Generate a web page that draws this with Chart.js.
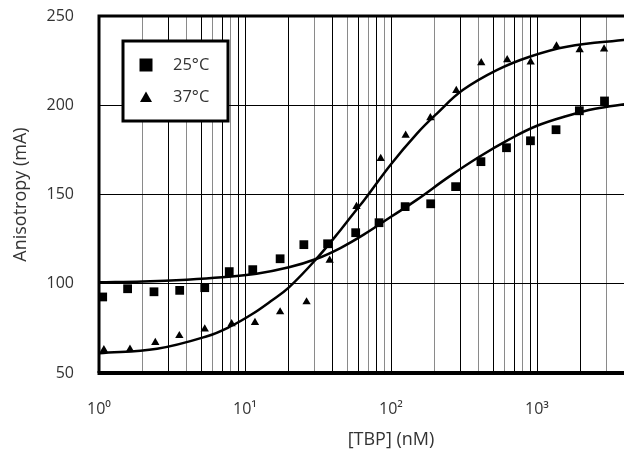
<!DOCTYPE html>
<html>
<head>
<meta charset="utf-8">
<script src="https://cdn.jsdelivr.net/npm/chart.js@4.4.1/dist/chart.umd.min.js"></script>
<style>
  html, body { margin: 0; padding: 0; background: #fff; overflow: hidden; }
  #wrap { width: 700px; height: 452px; }
</style>
</head>
<body>
<div id="wrap"><canvas id="chart" width="700" height="452"></canvas></div>
<script>
// measured points, 25 C (squares)
var conc25 = [1.06, 1.57, 2.38, 3.57, 5.3, 7.8, 11.3, 17.4, 25.3, 36.8, 57.3, 82.8, 125, 187, 277, 413, 618, 902, 1350, 1950, 2900];
var aniso25 = [92.6, 97.2, 95.5, 96.3, 97.8, 106.8, 107.9, 114.0, 121.9, 122.4, 128.6, 134.2, 143.2, 144.8, 154.4, 168.4, 176.2, 180.1, 186.3, 196.9, 202.4];

// measured points, 37 C (triangles)
var conc37 = [1.08, 1.63, 2.43, 3.55, 5.3, 8.1, 11.7, 17.4, 26.4, 38, 58, 85, 126, 186, 280, 415, 625, 905, 1360, 1960, 2880];
var aniso37 = [63.0, 63.3, 67.0, 70.9, 74.6, 77.5, 78.2, 84.2, 89.8, 113.1, 143.2, 170.1, 183.2, 192.9, 208.2, 223.8, 225.4, 224.2, 233.2, 231.0, 231.5];

// fitted curves
var fitConc25 = [1, 2, 4, 7, 12, 20, 31, 45, 65, 100, 150, 250, 400, 650, 1000, 1600, 2500, 4200];
var fitVal25 = [100.8, 101.3, 102.3, 103.6, 105.6, 109.2, 114, 120, 127.5, 137.5, 147, 160, 171, 181, 188.5, 194, 198, 200.8];

var fitConc37 = [1, 2.5, 5.5, 8, 11, 15, 20, 31, 45, 58, 65, 100, 150, 207, 310, 530, 890, 1600, 4200];
var fitVal37 = [61, 63.6, 70.6, 76.2, 82.6, 90.2, 98.0, 114.2, 130, 141.5, 146.5, 167, 184, 195.5, 208.5, 219.7, 227.2, 232.8, 236.8];

var xTicks = [];
[1, 10, 100, 1000].forEach(function(d) {
  for (var i = 1; i < 10; i++) xTicks.push(d * i);
});
xTicks.push(10000);
var decadeLabels = { 1: '10\u2070', 10: '10\u00b9', 100: '10\u00b2', 1000: '10\u00b3', 10000: '10\u2074' };
var yTicks = [50, 100, 150, 200, 250];

var legendItems = [
  { label: '25\u00b0C', style: 'rect' },
  { label: '37\u00b0C', style: 'triangle' }
];

function pts(xs, ys) {
  return xs.map(function(x, i) { return { x: x, y: ys[i] }; });
}

Chart.defaults.font.family = "'Open Sans', 'DejaVu Sans', sans-serif";
Chart.defaults.font.size = 16;
Chart.defaults.color = '#333';

var framePlugin = {
  id: 'frame',
  afterDatasetsDraw: function(chart) {
    var ctx = chart.ctx, a = chart.chartArea;
    ctx.save();
    ctx.strokeStyle = '#000';
    ctx.lineWidth = 3;
    ctx.beginPath();
    ctx.moveTo(a.left, a.top);
    ctx.lineTo(a.right + 2, a.top);
    ctx.moveTo(a.left, a.top - 1.5);
    ctx.lineTo(a.left, a.bottom);
    ctx.stroke();
    ctx.lineWidth = 4;
    ctx.beginPath();
    ctx.moveTo(a.left - 1.5, a.bottom);
    ctx.lineTo(a.right + 2, a.bottom);
    ctx.stroke();

    // legend box
    var bx = a.left + 24, by = a.top + 25, bw = 105, bh = 80;
    ctx.fillStyle = '#fff';
    ctx.fillRect(bx, by, bw, bh);
    ctx.lineWidth = 3;
    ctx.strokeRect(bx, by, bw, bh);
    ctx.font = "16.5px 'Open Sans', 'DejaVu Sans', sans-serif";
    ctx.textBaseline = 'middle';
    legendItems.forEach(function(it, i) {
      var cy = by + 24 + i * 32, cx = bx + 23;
      ctx.fillStyle = '#000';
      if (it.style === 'rect') {
        ctx.fillRect(cx - 6.5, cy - 6.5, 13, 13);
      } else {
        ctx.beginPath();
        ctx.moveTo(cx, cy - 5.5);
        ctx.lineTo(cx + 6, cy + 5);
        ctx.lineTo(cx - 6, cy + 5);
        ctx.closePath();
        ctx.fill();
      }
      ctx.fillStyle = '#333';
      ctx.fillText(it.label, bx + 50, cy);
    });
    ctx.restore();
  }
};

var ctx = document.getElementById('chart').getContext('2d');
var chart = new Chart(ctx, {
  type: 'scatter',
  data: {
    datasets: [
      {
        label: '25 fit',
        data: pts(fitConc25, fitVal25),
        showLine: true,
        borderColor: '#000',
        borderWidth: 2.5,
        pointRadius: 0,
        tension: 0.4
      },
      {
        label: '37 fit',
        data: pts(fitConc37, fitVal37),
        showLine: true,
        borderColor: '#000',
        borderWidth: 2.5,
        pointRadius: 0,
        tension: 0.4
      },
      {
        label: '25\u00b0C',
        data: pts(conc25, aniso25),
        pointStyle: 'rect',
        pointRadius: 6.2,
        backgroundColor: '#000',
        borderWidth: 0
      },
      {
        label: '37\u00b0C',
        data: pts(conc37, aniso37),
        pointStyle: 'triangle',
        pointRadius: 4.8,
        backgroundColor: '#000',
        borderWidth: 0
      }
    ]
  },
  options: {
    responsive: false,
    animation: false,
    layout: { padding: { top: 16, right: 17, left: 0, bottom: 0 } },
    plugins: { legend: { display: false }, tooltip: { enabled: false } },
    scales: {
      x: {
        type: 'logarithmic',
        min: 1,
        max: 10000,
        afterBuildTicks: function(scale) {
          scale.ticks = xTicks.map(function(v) { return { value: v }; });
        },
        afterFit: function(scale) {
          scale.height = 79;
          scale.paddingLeft = 0;
          scale.paddingRight = 0;
        },
        ticks: {
          autoSkip: false,
          maxRotation: 0,
          padding: 27,
          callback: function(v) { return decadeLabels[v] || ''; }
        },
        grid: {
          drawTicks: false,
          lineWidth: 1,
          color: function(c) {
            var v = c.tick && c.tick.value;
            if (decadeLabels[v]) return '#000';
            return c.index % 2 ? '#8a8a8a' : '#000';
          }
        },
        border: { display: false },
        title: { display: true, text: '[TBP] (nM)', font: { size: 18 }, padding: { top: 8, bottom: 1 } }
      },
      y: {
        min: 50,
        max: 250,
        afterBuildTicks: function(scale) {
          scale.ticks = yTicks.map(function(v) { return { value: v }; });
        },
        afterFit: function(scale) {
          scale.width = 99;
          scale.paddingTop = 0;
          scale.paddingBottom = 0;
        },
        ticks: { padding: 25 },
        grid: { drawTicks: false, color: '#000', lineWidth: 1 },
        border: { display: false },
        title: { display: true, text: 'Anisotropy (mA)', font: { size: 18 }, padding: { top: 10, bottom: 0 } }
      }
    }
  },
  plugins: [framePlugin]
});
</script>
</body>
</html>
